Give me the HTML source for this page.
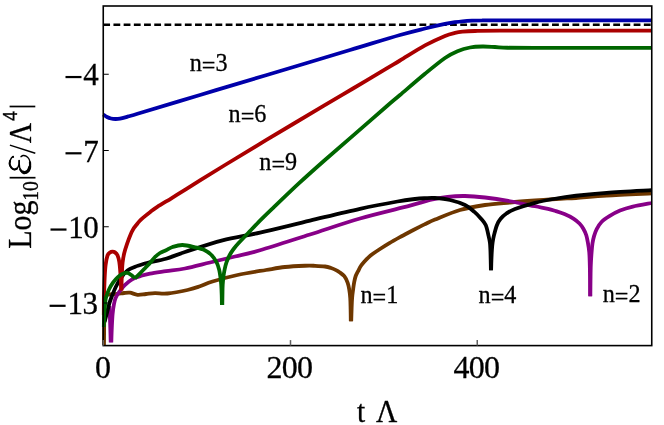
<!DOCTYPE html>
<html><head><meta charset="utf-8"><title>Plot</title>
<style>
html,body{margin:0;padding:0;background:#fff;}
svg{display:block;will-change:transform;}
text{font-family:"Liberation Serif",serif;fill:#000;stroke:#000;stroke-width:0.28px;}
</style></head>
<body>
<svg width="664" height="425" viewBox="0 0 664 425">
<rect x="0" y="0" width="664" height="425" fill="#fff"/>
<defs><clipPath id="clip"><rect x="101.7" y="6.0" width="551.3499999999999" height="339.90000000000003"/></clipPath></defs>
<line x1="103.25" y1="24.75" x2="651.75" y2="24.75" stroke="#000" stroke-width="2.4" stroke-dasharray="6.8 3.4"/>
<g clip-path="url(#clip)">
<path d="M104.00,345.00 C104.03,340.83 104.12,327.50 104.20,320.00 C104.28,312.50 104.20,304.08 104.50,300.00 C104.80,295.92 104.83,296.47 106.00,295.50 C107.17,294.53 109.58,294.45 111.50,294.20 C113.42,293.95 115.42,294.20 117.50,294.00 C119.58,293.80 121.92,293.22 124.00,293.00 C126.08,292.78 127.75,292.40 130.00,292.70 C132.25,293.00 134.83,294.58 137.50,294.80 C140.17,295.02 143.08,294.27 146.00,294.00 C148.92,293.73 151.42,293.28 155.00,293.20 C158.58,293.12 162.08,294.03 167.50,293.50 C172.92,292.97 182.08,291.21 187.50,290.00 C192.92,288.79 195.83,287.67 200.00,286.25 C204.17,284.83 206.25,283.38 212.50,281.50 C218.75,279.62 228.58,276.92 237.50,275.00 C246.42,273.08 258.08,271.33 266.00,270.00 C273.92,268.67 278.50,267.71 285.00,267.00 C291.50,266.29 300.00,265.95 305.00,265.75 C310.00,265.55 311.67,265.68 315.00,265.80 C318.33,265.93 322.33,266.13 325.00,266.50 C327.67,266.87 329.17,267.40 331.00,268.00 C332.83,268.60 334.58,269.40 336.00,270.10 C337.42,270.80 338.12,271.18 339.50,272.20 C340.88,273.22 342.95,274.47 344.30,276.20 C345.65,277.93 346.78,280.43 347.60,282.60 C348.42,284.77 348.76,286.63 349.20,289.20 C349.64,291.77 350.02,294.70 350.25,298.00 C350.48,301.30 350.51,305.12 350.60,309.00 C350.69,312.88 350.77,319.25 350.80,321.30" fill="none" stroke="#6E3700" stroke-width="3.8" stroke-linejoin="round" stroke-linecap="butt"/>
<path d="M351.20,321.30 C351.27,319.25 351.45,312.88 351.60,309.00 C351.75,305.12 351.84,301.30 352.10,298.00 C352.36,294.70 352.80,291.85 353.15,289.20 C353.50,286.55 353.77,284.30 354.20,282.10 C354.62,279.90 355.05,277.83 355.70,276.00 C356.35,274.17 357.22,272.80 358.10,271.10 C358.98,269.40 359.90,267.45 361.00,265.80 C362.10,264.15 363.45,262.62 364.70,261.20 C365.95,259.78 367.13,258.53 368.50,257.30 C369.87,256.07 370.98,255.18 372.90,253.80 C374.82,252.42 377.25,250.78 380.00,249.00 C382.75,247.22 386.07,245.08 389.40,243.10 C392.73,241.12 397.27,238.61 400.00,237.10 C402.73,235.59 402.47,235.80 405.80,234.05 C409.13,232.30 416.63,228.32 420.00,226.60 C423.37,224.88 423.50,224.87 426.00,223.70 C428.50,222.53 429.33,221.88 435.00,219.60 C440.67,217.32 451.67,212.43 460.00,210.00 C468.33,207.57 476.67,206.25 485.00,205.00 C493.33,203.75 501.67,203.25 510.00,202.50 C518.33,201.75 526.67,201.12 535.00,200.50 C543.33,199.88 553.17,199.17 560.00,198.75 C566.83,198.33 568.22,198.53 576.00,198.00 C583.78,197.47 594.08,196.37 606.70,195.60 C619.33,194.83 644.24,193.77 651.75,193.40" fill="none" stroke="#6E3700" stroke-width="3.8" stroke-linejoin="round" stroke-linecap="butt"/>
<path d="M109.40,306.00 C109.47,307.33 109.65,310.33 109.80,314.00 C109.95,317.67 110.15,323.27 110.30,328.00 C110.45,332.73 110.63,340.00 110.70,342.40" fill="none" stroke="#880088" stroke-width="3.8" stroke-linejoin="round" stroke-linecap="butt"/>
<path d="M111.30,342.40 C111.38,340.00 111.58,332.73 111.80,328.00 C112.02,323.27 112.23,318.00 112.60,314.00 C112.97,310.00 113.50,306.67 114.00,304.00 C114.50,301.33 114.75,300.00 115.60,298.00 C116.45,296.00 117.62,294.12 119.10,292.00 C120.58,289.88 122.33,287.42 124.50,285.30 C126.67,283.18 129.32,280.88 132.10,279.30 C134.88,277.72 138.22,276.75 141.20,275.80 C144.18,274.85 145.87,274.37 150.00,273.60 C154.13,272.83 160.17,272.05 166.00,271.20 C171.83,270.35 177.67,269.95 185.00,268.50 C192.33,267.05 201.67,264.50 210.00,262.50 C218.33,260.50 226.67,258.53 235.00,256.50 C243.33,254.47 247.50,253.97 260.00,250.30 C272.50,246.63 293.33,239.80 310.00,234.50 C326.67,229.20 343.33,223.30 360.00,218.50 C376.67,213.70 398.33,208.78 410.00,205.70 C421.67,202.62 423.75,201.47 430.00,200.00 C436.25,198.53 441.67,197.57 447.50,196.90 C453.33,196.23 458.75,195.90 465.00,196.00 C471.25,196.10 477.50,196.62 485.00,197.50 C492.50,198.38 501.67,199.79 510.00,201.25 C518.33,202.71 528.67,204.99 535.00,206.25 C541.33,207.51 544.67,208.04 548.00,208.80 C551.33,209.56 552.27,209.92 555.00,210.80 C557.73,211.68 561.27,212.77 564.40,214.10 C567.53,215.43 571.28,217.23 573.80,218.80 C576.32,220.37 577.93,221.88 579.50,223.50 C581.07,225.12 582.08,226.58 583.20,228.50 C584.32,230.42 585.43,232.67 586.20,235.00 C586.98,237.33 587.34,239.67 587.85,242.50 C588.36,245.33 588.92,248.25 589.25,252.00 C589.58,255.75 589.67,260.33 589.80,265.00 C589.93,269.67 589.99,274.78 590.05,280.00 C590.11,285.22 590.13,293.58 590.15,296.30" fill="none" stroke="#880088" stroke-width="3.8" stroke-linejoin="round" stroke-linecap="butt"/>
<path d="M590.35,296.30 C590.38,293.58 590.42,285.22 590.50,280.00 C590.58,274.78 590.62,269.67 590.80,265.00 C590.98,260.33 591.32,255.63 591.60,252.00 C591.88,248.37 592.09,245.85 592.50,243.20 C592.91,240.55 593.35,238.45 594.05,236.10 C594.75,233.75 595.46,231.45 596.70,229.10 C597.94,226.75 599.38,224.15 601.50,222.00 C603.62,219.85 606.32,218.10 609.40,216.20 C612.48,214.30 616.10,212.20 620.00,210.60 C623.90,209.00 627.51,207.87 632.80,206.60 C638.09,205.33 648.59,203.60 651.75,203.00" fill="none" stroke="#880088" stroke-width="3.8" stroke-linejoin="round" stroke-linecap="butt"/>
<path d="M103.25,114.50 C103.88,114.92 105.71,116.33 107.00,117.00 C108.29,117.67 109.58,118.17 111.00,118.50 C112.42,118.83 114.00,118.98 115.50,119.00 C117.00,119.02 118.08,118.97 120.00,118.60 C121.92,118.23 124.08,117.61 127.00,116.80 C129.92,115.99 125.33,117.38 137.50,113.75 C149.67,110.12 178.58,101.42 200.00,95.00 C221.42,88.58 241.00,82.70 266.00,75.20 C291.00,67.70 327.67,56.70 350.00,50.00 C372.33,43.30 387.50,38.58 400.00,35.00 C412.50,31.42 417.50,30.35 425.00,28.50 C432.50,26.65 440.00,24.95 445.00,23.90 C450.00,22.85 452.08,22.63 455.00,22.20 C457.92,21.77 459.67,21.55 462.50,21.30 C465.33,21.05 468.67,20.84 472.00,20.70 C475.33,20.56 477.83,20.49 482.50,20.45 C487.17,20.41 471.79,20.45 500.00,20.45 C528.21,20.45 626.46,20.45 651.75,20.45" fill="none" stroke="#0000AA" stroke-width="3.8" stroke-linejoin="round" stroke-linecap="butt"/>
<path d="M104.60,322.00 C104.77,321.33 105.17,319.67 105.60,318.00 C106.03,316.33 106.55,314.50 107.20,312.00 C107.85,309.50 108.78,305.47 109.50,303.00 C110.22,300.53 110.42,299.95 111.50,297.20 C112.58,294.45 114.35,289.82 116.00,286.50 C117.65,283.18 119.48,279.95 121.40,277.30 C123.32,274.65 125.20,272.35 127.50,270.60 C129.80,268.85 132.40,267.95 135.20,266.80 C138.00,265.65 141.83,264.47 144.30,263.70 C146.77,262.93 146.38,263.03 150.00,262.20 C153.62,261.37 160.17,260.40 166.00,258.70 C171.83,257.00 175.58,255.07 185.00,252.00 C194.42,248.93 210.00,243.53 222.50,240.30 C235.00,237.07 245.42,235.88 260.00,232.60 C274.58,229.32 293.33,224.57 310.00,220.60 C326.67,216.63 345.42,211.98 360.00,208.80 C374.58,205.62 388.33,203.13 397.50,201.50 C406.67,199.87 410.42,199.55 415.00,199.00 C419.58,198.45 421.67,198.37 425.00,198.20 C428.33,198.03 430.83,197.70 435.00,198.00 C439.17,198.30 445.00,198.83 450.00,200.00 C455.00,201.17 460.93,203.02 465.00,205.00 C469.07,206.98 471.80,209.70 474.40,211.90 C477.00,214.10 478.72,216.02 480.60,218.20 C482.48,220.38 484.38,222.10 485.70,225.00 C487.02,227.90 487.80,232.67 488.50,235.60 C489.20,238.53 489.58,240.20 489.90,242.60 C490.22,245.00 490.27,247.10 490.40,250.00 C490.53,252.90 490.62,256.62 490.70,260.00 C490.78,263.38 490.87,268.58 490.90,270.30" fill="none" stroke="#000000" stroke-width="3.8" stroke-linejoin="round" stroke-linecap="butt"/>
<path d="M491.10,270.30 C491.15,268.58 491.27,263.38 491.40,260.00 C491.53,256.62 491.70,252.90 491.90,250.00 C492.10,247.10 492.27,245.00 492.60,242.60 C492.93,240.20 493.17,238.53 493.90,235.60 C494.63,232.67 495.88,227.80 497.00,225.00 C498.12,222.20 499.03,220.72 500.60,218.80 C502.17,216.88 504.00,215.13 506.40,213.50 C508.80,211.87 510.23,210.78 515.00,209.00 C519.77,207.22 528.33,204.51 535.00,202.80 C541.67,201.09 548.17,199.93 555.00,198.75 C561.83,197.57 567.38,196.74 576.00,195.75 C584.62,194.76 594.08,193.73 606.70,192.80 C619.33,191.88 644.24,190.63 651.75,190.20" fill="none" stroke="#000000" stroke-width="3.8" stroke-linejoin="round" stroke-linecap="butt"/>
<path d="M103.60,315.00 C103.63,312.50 103.70,304.17 103.80,300.00 C103.90,295.83 104.05,293.77 104.20,290.00 C104.35,286.23 104.47,281.57 104.70,277.40 C104.93,273.23 105.13,268.65 105.60,265.00 C106.07,261.35 106.77,257.57 107.50,255.50 C108.23,253.43 109.18,253.23 110.00,252.60 C110.82,251.97 111.57,251.73 112.40,251.70 C113.23,251.67 114.13,251.77 115.00,252.40 C115.87,253.03 116.88,253.90 117.60,255.50 C118.32,257.10 118.85,259.25 119.30,262.00 C119.75,264.75 120.03,268.67 120.30,272.00 C120.57,275.33 120.75,278.93 120.90,282.00 C121.05,285.07 121.15,289.00 121.20,290.40" fill="none" stroke="#AA0000" stroke-width="3.8" stroke-linejoin="round" stroke-linecap="butt"/>
<path d="M121.40,290.40 C121.43,289.00 121.50,285.07 121.60,282.00 C121.70,278.93 121.83,275.23 122.00,272.00 C122.17,268.77 122.23,265.73 122.60,262.60 C122.97,259.47 123.46,256.33 124.20,253.20 C124.94,250.07 125.98,246.93 127.05,243.80 C128.12,240.67 129.57,236.83 130.60,234.40 C131.62,231.97 132.23,230.78 133.20,229.20 C134.17,227.62 135.33,226.27 136.40,224.90 C137.47,223.53 138.47,222.22 139.60,221.00 C140.73,219.78 141.42,219.12 143.20,217.60 C144.98,216.08 147.95,213.68 150.30,211.90 C152.65,210.12 153.78,209.17 157.30,206.90 C160.82,204.63 166.93,201.05 171.40,198.30 C175.87,195.55 179.33,193.38 184.10,190.40 C188.87,187.42 193.18,184.63 200.00,180.40 C206.82,176.17 214.00,171.70 225.00,165.00 C236.00,158.30 249.58,150.05 266.00,140.20 C282.42,130.35 309.00,114.52 323.50,105.90 C338.00,97.28 342.60,94.68 353.00,88.50 C363.40,82.32 378.07,73.47 385.90,68.80 C393.73,64.13 393.48,64.40 400.00,60.50 C406.52,56.60 417.50,49.50 425.00,45.40 C432.50,41.30 440.00,37.98 445.00,35.90 C450.00,33.82 452.08,33.60 455.00,32.90 C457.92,32.20 459.17,32.02 462.50,31.70 C465.83,31.38 468.75,31.17 475.00,31.00 C481.25,30.83 470.54,30.75 500.00,30.70 C529.46,30.65 626.46,30.70 651.75,30.70" fill="none" stroke="#AA0000" stroke-width="3.8" stroke-linejoin="round" stroke-linecap="butt"/>
<path d="M103.70,327.00 C103.80,324.78 104.05,317.70 104.30,313.70 C104.55,309.70 104.90,305.75 105.20,303.00 C105.50,300.25 105.43,299.53 106.10,297.20 C106.77,294.87 108.05,291.43 109.20,289.00 C110.35,286.57 111.60,284.55 113.00,282.60 C114.40,280.65 115.95,278.78 117.60,277.30 C119.25,275.82 121.25,274.43 122.90,273.70 C124.55,272.97 126.10,272.68 127.50,272.90 C128.90,273.12 130.07,274.10 131.30,275.00 C132.53,275.90 134.30,277.75 134.90,278.30" fill="none" stroke="#006600" stroke-width="3.8" stroke-linejoin="round" stroke-linecap="butt"/>
<path d="M134.90,278.30 C135.72,277.52 137.97,275.45 139.80,273.60 C141.63,271.75 144.20,268.97 145.90,267.20 C147.60,265.43 148.48,264.70 150.00,263.00 C151.52,261.30 153.33,258.67 155.00,257.00 C156.67,255.33 158.17,254.13 160.00,253.00 C161.83,251.87 163.92,251.20 166.00,250.20 C168.08,249.20 169.75,247.87 172.50,247.00 C175.25,246.13 178.75,244.95 182.50,245.00 C186.25,245.05 191.28,246.43 195.00,247.30 C198.72,248.17 202.07,248.92 204.80,250.20 C207.53,251.48 209.45,253.02 211.40,255.00 C213.35,256.98 215.23,259.75 216.50,262.10 C217.77,264.45 218.37,266.75 219.00,269.10 C219.63,271.45 219.93,273.55 220.30,276.20 C220.68,278.85 221.02,281.87 221.25,285.00 C221.48,288.13 221.59,291.68 221.70,295.00 C221.81,298.32 221.87,303.25 221.90,304.90" fill="none" stroke="#006600" stroke-width="3.8" stroke-linejoin="round" stroke-linecap="butt"/>
<path d="M222.30,304.90 C222.33,303.25 222.38,298.32 222.45,295.00 C222.52,291.68 222.52,288.13 222.70,285.00 C222.88,281.87 223.17,278.85 223.50,276.20 C223.83,273.55 224.19,271.45 224.70,269.10 C225.21,266.75 225.72,264.45 226.55,262.10 C227.38,259.75 228.52,257.18 229.70,255.00 C230.88,252.82 232.15,250.95 233.60,249.00 C235.05,247.05 235.72,246.23 238.40,243.30 C241.08,240.37 245.77,235.50 249.70,231.40 C253.63,227.30 257.88,222.82 262.00,218.70 C266.12,214.58 268.22,212.62 274.40,206.70 C280.58,200.78 290.87,190.82 299.10,183.20 C307.33,175.58 314.82,168.93 323.80,161.00 C332.78,153.07 342.47,144.77 353.00,135.60 C363.53,126.43 379.17,112.77 387.00,106.00 C394.83,99.23 393.67,100.38 400.00,95.00 C406.33,89.62 417.50,79.92 425.00,73.75 C432.50,67.58 439.58,61.75 445.00,58.00 C450.42,54.25 453.33,53.00 457.50,51.25 C461.67,49.50 465.83,48.29 470.00,47.50 C474.17,46.71 478.33,46.58 482.50,46.50 C486.67,46.42 490.83,46.79 495.00,47.00 C499.17,47.21 500.42,47.60 507.50,47.75 C514.58,47.90 527.75,47.89 537.50,47.90 C547.25,47.91 546.96,47.80 566.00,47.80 C585.04,47.80 637.46,47.88 651.75,47.90" fill="none" stroke="#006600" stroke-width="3.8" stroke-linejoin="round" stroke-linecap="butt"/>
</g>
<rect x="103.25" y="6.0" width="548.5" height="339.6" fill="none" stroke="#000" stroke-width="1.6"/>
<line x1="103.25" y1="345.6" x2="103.25" y2="340.1" stroke="#606060" stroke-width="1.5"/>
<line x1="290.5" y1="345.6" x2="290.5" y2="340.1" stroke="#606060" stroke-width="1.5"/>
<line x1="477.25" y1="345.6" x2="477.25" y2="340.1" stroke="#606060" stroke-width="1.5"/>
<line x1="103.25" y1="74.25" x2="108.75" y2="74.25" stroke="#000" stroke-width="1"/>
<line x1="103.25" y1="150.5" x2="108.75" y2="150.5" stroke="#000" stroke-width="1"/>
<line x1="103.25" y1="226.75" x2="108.75" y2="226.75" stroke="#000" stroke-width="1"/>
<line x1="103.25" y1="303.0" x2="108.75" y2="303.0" stroke="#000" stroke-width="1"/>

<text transform="translate(95.1,378.4) scale(1.0,1.0)" font-size="32" text-anchor="start" letter-spacing="-0.8">0</text>
<text transform="translate(266.5,378.4) scale(1.0,1.0)" font-size="32" text-anchor="start" letter-spacing="-0.8">200</text>
<text transform="translate(453.55,378.4) scale(1.0,1.0)" font-size="32" text-anchor="start" letter-spacing="-0.8">400</text>
<text transform="translate(83.3,85.25) scale(1.0,1.0)" font-size="31" text-anchor="start" letter-spacing="-0.5">4</text>
<rect x="65.50" y="75.95" width="16" height="2.2" fill="#000"/>
<text transform="translate(83.3,161.5) scale(1.0,1.0)" font-size="31" text-anchor="start" letter-spacing="-0.5">7</text>
<rect x="65.50" y="152.20" width="16" height="2.2" fill="#000"/>
<text transform="translate(68.3,237.75) scale(1.0,1.0)" font-size="31" text-anchor="start" letter-spacing="-0.5">10</text>
<rect x="50.50" y="228.45" width="16" height="2.2" fill="#000"/>
<text transform="translate(67.4,314.0) scale(1.0,1.0)" font-size="31" text-anchor="start" letter-spacing="-0.5">13</text>
<rect x="49.60" y="304.70" width="16" height="2.2" fill="#000"/>
<text transform="translate(356.9,421.7) scale(1.05,1.09)" font-size="28" text-anchor="start" >t</text>
<text transform="translate(375.9,421.7) scale(1.05,1.09)" font-size="28" text-anchor="start" >Λ</text>
<text transform="translate(189.64,71.0) scale(1.0,1.0)" font-size="24.2" text-anchor="start" >n<tspan dy="2.9">=</tspan><tspan dy="-2.9">3</tspan></text>
<text transform="translate(228.6,122.3) scale(1.0,1.0)" font-size="24.2" text-anchor="start" >n<tspan dy="2.9">=</tspan><tspan dy="-2.9">6</tspan></text>
<text transform="translate(259.35,169.85) scale(1.0,1.0)" font-size="24.2" text-anchor="start" >n<tspan dy="2.9">=</tspan><tspan dy="-2.9">9</tspan></text>
<text transform="translate(360.45,303.0) scale(1.0,1.0)" font-size="24.2" text-anchor="start" >n<tspan dy="2.9">=</tspan><tspan dy="-2.9">1</tspan></text>
<text transform="translate(478.6,302.8) scale(1.0,1.0)" font-size="24.2" text-anchor="start" >n<tspan dy="2.9">=</tspan><tspan dy="-2.9">4</tspan></text>
<text transform="translate(602.65,301.85) scale(1.0,1.0)" font-size="24.2" text-anchor="start" >n<tspan dy="2.9">=</tspan><tspan dy="-2.9">2</tspan></text>

<g transform="translate(31,248.8) rotate(-90)">
<text transform="translate(0,0) scale(1.0,1.09)" font-size="30" text-anchor="start" >Log</text>
<text transform="translate(48.0,7.0) scale(0.93,1.09)" font-size="21" text-anchor="start" >10</text>
<text transform="translate(105.6,0) scale(1.0,1.09)" font-size="28" text-anchor="start" >Λ</text>
<text transform="translate(127.8,-14.4) scale(0.9,1.0)" font-size="20.3" text-anchor="start" style="font-family:&quot;Liberation Sans&quot;,sans-serif">4</text>
</g>
<line x1="9.6" y1="177.7" x2="35.5" y2="177.7" stroke="#000" stroke-width="1.7"/>
<line x1="9.6" y1="106.5" x2="35.3" y2="106.5" stroke="#000" stroke-width="1.7"/>
<line x1="35.3" y1="153.2" x2="9.9" y2="145.1" stroke="#000" stroke-width="1.5"/>
<path d="M13.30,156.40 C13.02,156.63 12.12,157.12 11.60,157.80 C11.08,158.48 10.53,159.43 10.20,160.50 C9.87,161.57 9.43,163.02 9.60,164.20 C9.77,165.38 10.42,166.72 11.20,167.60 C11.98,168.48 13.28,169.40 14.30,169.50 C15.32,169.60 16.55,168.95 17.30,168.20 C18.05,167.45 18.48,166.23 18.80,165.00 C19.12,163.77 19.13,161.50 19.20,160.80" fill="none" stroke="#000" stroke-width="1.4" stroke-linecap="round"/>
<path d="M19.10,160.40 C19.13,161.00 19.18,162.73 19.30,164.00 C19.42,165.27 19.42,166.78 19.80,168.00 C20.18,169.22 20.73,170.50 21.60,171.30 C22.47,172.10 23.88,172.85 25.00,172.80 C26.12,172.75 27.47,172.00 28.30,171.00 C29.13,170.00 29.72,168.25 30.00,166.80 C30.28,165.35 30.22,163.68 30.00,162.30 C29.78,160.92 29.35,159.53 28.70,158.50 C28.05,157.47 27.03,156.60 26.10,156.10 C25.17,155.60 23.95,155.40 23.10,155.50 C22.25,155.60 21.35,156.50 21.00,156.70" fill="none" stroke="#000" stroke-width="1.4" stroke-linecap="round"/>
<path d="M10.10,160.80 C10.03,161.37 9.50,163.07 9.70,164.20 C9.90,165.33 10.53,166.73 11.30,167.60 C12.07,168.47 13.35,169.25 14.30,169.40 C15.25,169.55 16.55,168.65 17.00,168.50" fill="none" stroke="#000" stroke-width="2.0" stroke-linecap="round"/>
<path d="M20.20,169.30 C20.43,169.63 20.80,170.72 21.60,171.30 C22.40,171.88 23.88,172.85 25.00,172.80 C26.12,172.75 27.47,172.00 28.30,171.00 C29.13,170.00 29.72,168.25 30.00,166.80 C30.28,165.35 30.00,163.05 30.00,162.30" fill="none" stroke="#000" stroke-width="2.2" stroke-linecap="round"/>
<path d="M22.80,172.10 C23.17,172.18 24.12,172.82 25.00,172.60 C25.88,172.38 27.32,171.70 28.10,170.80 C28.88,169.90 29.43,167.80 29.70,167.20" fill="none" stroke="#000" stroke-width="3.1" stroke-linecap="round"/>
<circle cx="13.0" cy="157.0" r="1.1" fill="#000"/>


</svg>
</body></html>
